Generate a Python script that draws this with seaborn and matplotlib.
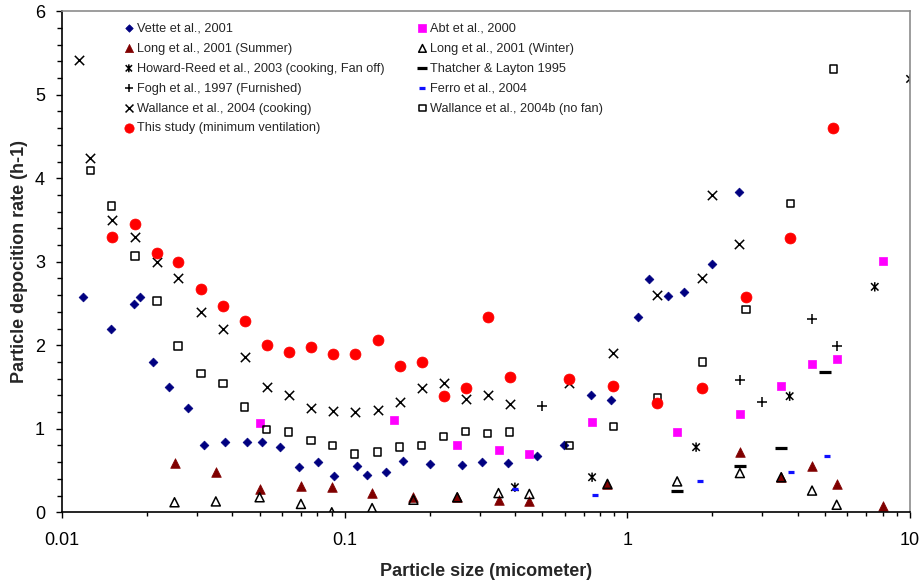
import matplotlib
matplotlib.use("Agg")
import matplotlib.pyplot as plt
import seaborn as sns
from matplotlib.path import Path
from matplotlib.ticker import FixedLocator, FixedFormatter, LogLocator, MultipleLocator, NullFormatter

# ---- data ----
vette_x = [0.0119, 0.0149, 0.018, 0.0189, 0.021, 0.0239, 0.0279, 0.0318, 0.0377, 0.045, 0.0509,
           0.0589, 0.0688, 0.0803, 0.0915, 0.1103, 0.1196, 0.1396, 0.1603, 0.1996, 0.259, 0.307,
           0.377, 0.477, 0.599, 0.746, 0.878, 1.093, 1.196, 1.396, 1.59, 1.996, 2.488]
vette_y = [2.58, 2.2, 2.49, 2.58, 1.8, 1.5, 1.25, 0.8, 0.84, 0.84, 0.84,
           0.78, 0.54, 0.6, 0.43, 0.55, 0.45, 0.48, 0.61, 0.58, 0.57, 0.6,
           0.59, 0.67, 0.81, 1.4, 1.35, 2.34, 2.79, 2.59, 2.64, 2.97, 3.84]

abt_x = [0.05, 0.15, 0.25, 0.35, 0.45, 0.75, 1.5, 2.5, 3.5, 4.5, 5.5, 8]
abt_y = [1.07, 1.1, 0.8, 0.75, 0.7, 1.08, 0.96, 1.18, 1.51, 1.78, 1.84, 3.01]

summer_x = [0.025, 0.035, 0.05, 0.07, 0.09, 0.125, 0.175, 0.25, 0.35, 0.45, 0.85, 2.5, 3.5, 4.5, 5.5, 8]
summer_y = [0.59, 0.48, 0.28, 0.32, 0.3, 0.23, 0.18, 0.18, 0.15, 0.14, 0.34, 0.72, 0.42, 0.55, 0.34, 0.08]

winter_x = [0.025, 0.035, 0.05, 0.07, 0.09, 0.125, 0.175, 0.25, 0.35, 0.45, 0.85, 1.5, 2.5, 3.5, 4.5, 5.5]
winter_y = [0.12, 0.13, 0.18, 0.1, 0.0, 0.05, 0.15, 0.18, 0.23, 0.22, 0.34, 0.37, 0.47, 0.42, 0.26, 0.09]

howard_x = [0.4, 0.75, 1.75, 3.75, 7.5, 10]
howard_y = [0.3, 0.42, 0.78, 1.39, 2.7, 5.19]

thatcher_x = [1.5, 2.5, 3.5, 5]
thatcher_y = [0.26, 0.56, 0.77, 1.68]

fogh_x = [0.5, 2.5, 3, 4.5, 5.5]
fogh_y = [1.27, 1.59, 1.32, 2.32, 1.99]

ferro_x = [0.4, 0.77, 1.8, 3.8, 5.1]
ferro_y = [0.28, 0.21, 0.37, 0.48, 0.68]

wal_x = [0.0115, 0.0126, 0.015, 0.0181, 0.0217, 0.0257, 0.031, 0.0371, 0.0443, 0.053, 0.0634,
         0.0759, 0.0907, 0.1085, 0.1308, 0.1564, 0.1871, 0.2238, 0.2677, 0.32, 0.383, 0.624,
         0.892, 1.276, 1.84, 1.996, 2.49]
wal_y = [5.42, 4.24, 3.5, 3.3, 3.0, 2.8, 2.4, 2.2, 1.86, 1.5, 1.41,
         1.25, 1.21, 1.2, 1.23, 1.32, 1.49, 1.55, 1.36, 1.41, 1.3, 1.55,
         1.91, 2.6, 2.81, 3.8, 3.21]

walb_x = [0.0126, 0.015, 0.0181, 0.0217, 0.0257, 0.031, 0.0371, 0.0443, 0.053, 0.0634, 0.0759,
          0.0907, 0.1085, 0.1308, 0.1564, 0.1871, 0.2238, 0.2677, 0.32, 0.383, 0.624, 0.892,
          1.276, 1.84, 2.63, 3.77, 5.35]
walb_y = [4.09, 3.67, 3.07, 2.53, 1.99, 1.66, 1.54, 1.26, 0.99, 0.96, 0.86,
          0.8, 0.7, 0.72, 0.78, 0.8, 0.91, 0.97, 0.94, 0.96, 0.8, 1.03,
          1.37, 1.8, 2.43, 3.7, 5.31]

study_x = [0.015, 0.0181, 0.0217, 0.0257, 0.031, 0.0371, 0.0443, 0.053, 0.0634, 0.0759, 0.0907,
           0.1085, 0.1308, 0.1564, 0.1871, 0.2238, 0.2677, 0.32, 0.383, 0.624, 0.892, 1.276,
           1.84, 2.63, 3.77, 5.35]
study_y = [3.3, 3.45, 3.11, 3.0, 2.68, 2.47, 2.29, 2.0, 1.92, 1.98, 1.89,
           1.89, 2.06, 1.75, 1.8, 1.39, 1.49, 2.34, 1.62, 1.6, 1.51, 1.31,
           1.49, 2.58, 3.28, 4.6]

navy = "#000080"
darkred = "#800000"
magenta = "#FF00FF"
red = "#FF0000"
blue = "#1010FF"

sns.set_style("ticks")
plt.rcParams["font.family"] = ["Liberation Sans", "DejaVu Sans"]

# excel style star: an x with a vertical bar
star = Path([(-1, -1), (1, 1), (-1, 1), (1, -1), (0, -1.25), (0, 1.25)],
            [Path.MOVETO, Path.LINETO, Path.MOVETO, Path.LINETO, Path.MOVETO, Path.LINETO])

fig, ax = plt.subplots(figsize=(9.23, 5.85), dpi=100)
fig.subplots_adjust(left=0.0672, right=0.986, top=0.9807, bottom=0.1243)

h = {}
h["vette"] = sns.scatterplot(x=vette_x, y=vette_y, marker="D", s=20, color=navy, edgecolor=navy,
                             linewidth=0.5, ax=ax).collections[-1]
h["abt"] = sns.scatterplot(x=abt_x, y=abt_y, marker="s", s=36, color=magenta, edgecolor=magenta,
                           linewidth=0.5, ax=ax).collections[-1]
h["summer"] = sns.scatterplot(x=summer_x, y=summer_y, marker="^", s=48, color=darkred, edgecolor=darkred,
                              linewidth=0.5, ax=ax).collections[-1]
h["winter"] = sns.scatterplot(x=winter_x, y=winter_y, marker="^", s=42, color="black", facecolor="none",
                              edgecolor="black", linewidth=1.1, ax=ax).collections[-1]
h["howard"] = sns.scatterplot(x=howard_x, y=howard_y, marker=star, s=45, color="black", facecolor="none",
                              edgecolor="black", linewidth=1.1, ax=ax).collections[-1]
h["thatcher"] = sns.scatterplot(x=thatcher_x, y=thatcher_y, marker="_", s=75, color="black",
                                linewidth=2.3, ax=ax).collections[-1]
h["fogh"] = sns.scatterplot(x=fogh_x, y=fogh_y, marker="+", s=55, color="black",
                            linewidth=1.1, ax=ax).collections[-1]
h["ferro"] = sns.scatterplot(x=ferro_x, y=ferro_y, marker="_", s=25, color=blue,
                             linewidth=2.3, ax=ax).collections[-1]
h["wal"] = sns.scatterplot(x=wal_x, y=wal_y, marker="x", s=45, color="black",
                           linewidth=1.1, ax=ax).collections[-1]
h["walb"] = sns.scatterplot(x=walb_x, y=walb_y, marker="s", s=28, color="black", facecolor="none",
                            edgecolor="black", linewidth=1.1, ax=ax).collections[-1]
h["study"] = sns.scatterplot(x=study_x, y=study_y, marker="o", s=62, color=red, edgecolor=red,
                             linewidth=0.5, ax=ax).collections[-1]

ax.set_xscale("log")
ax.set_xlim(0.01, 10)
ax.set_ylim(0, 6)

ax.xaxis.set_major_locator(FixedLocator([0.01, 0.1, 1, 10]))
ax.xaxis.set_major_formatter(FixedFormatter(["0.01", "0.1", "1", "10"]))
ax.xaxis.set_minor_locator(LogLocator(base=10, subs=range(2, 10)))
ax.xaxis.set_minor_formatter(NullFormatter())
ax.yaxis.set_major_locator(MultipleLocator(1))
ax.yaxis.set_minor_locator(MultipleLocator(0.2))

ax.tick_params(axis="both", which="major", direction="out", length=4.3, width=1, color="black",
               labelsize=13, labelcolor="black")
ax.tick_params(axis="x", which="major", pad=10)
ax.tick_params(axis="y", which="major", pad=8)
ax.tick_params(axis="x", which="minor", direction="out", length=3, width=1, color="black")
ax.tick_params(axis="y", which="minor", direction="out", length=3.5, width=1, color="black")

for side in ["left", "bottom"]:
    ax.spines[side].set_color("black")
    ax.spines[side].set_linewidth(1.2)
for side in ["top", "right"]:
    ax.spines[side].set_visible(True)
    ax.spines[side].set_color("#8c8c8c")
    ax.spines[side].set_linewidth(1.2)

ax.set_xlabel("Particle size (micometer)", fontsize=13, fontweight="bold", labelpad=10)
ax.set_ylabel("Particle depocition rate (h-1)", fontsize=13, fontweight="bold", labelpad=5)

# legend is filled column by column: left column first, then right column
order = ["vette", "summer", "howard", "fogh", "wal", "study", "abt", "winter", "thatcher", "ferro", "walb"]
names = {
    "vette": "Vette et al., 2001",
    "abt": "Abt et al., 2000",
    "summer": "Long et al., 2001 (Summer)",
    "winter": "Long et al., 2001 (Winter)",
    "howard": "Howard-Reed et al., 2003 (cooking, Fan off)",
    "thatcher": "Thatcher & Layton 1995",
    "fogh": "Fogh et al., 1997 (Furnished)",
    "ferro": "Ferro et al., 2004",
    "wal": "Wallance et al., 2004 (cooking)",
    "walb": "Wallance et al., 2004b (no fan)",
    "study": "This study (minimum ventilation)",
}
leg = ax.legend([h[k] for k in order], [names[k] for k in order], ncol=2, loc="upper left",
                bbox_to_anchor=(0.072, 0.977), frameon=False, fontsize=9.2, scatterpoints=1,
                handlelength=0.9, handletextpad=0.15, labelspacing=0.62, columnspacing=2.55,
                borderpad=0, borderaxespad=0, markerscale=0.85)

plt.savefig("out.png", dpi=100)
plt.close()
